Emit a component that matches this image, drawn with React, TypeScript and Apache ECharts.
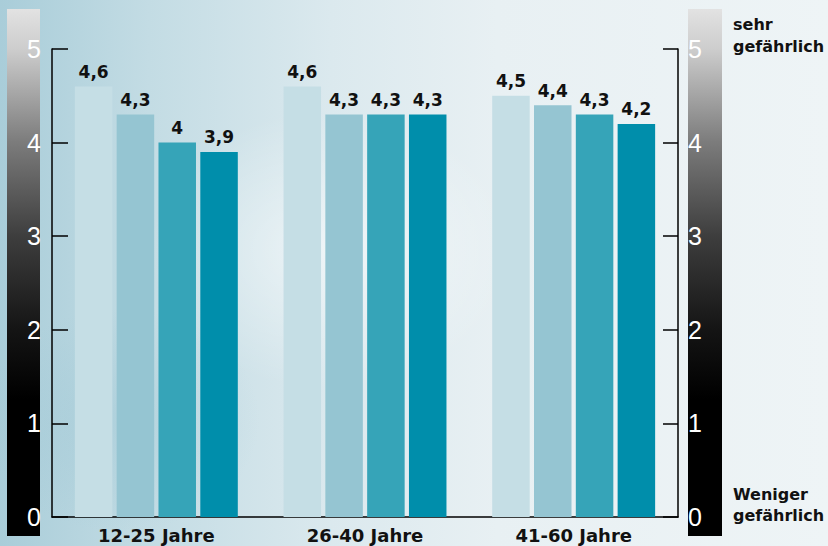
import React, { useEffect, useRef } from "react";
import * as echarts from "echarts";

const categories = ["12-25 Jahre", "26-40 Jahre", "41-60 Jahre"];
const series1 = [4.6, 4.6, 4.5];
const series2 = [4.3, 4.3, 4.4];
const series3 = [4.0, 4.3, 4.3];
const series4 = [3.9, 4.3, 4.2];
const barColors = ["#c5dee5", "#95c5d2", "#36a4b8", "#008eab"];
const yTicks = [0, 1, 2, 3, 4, 5];
const topText = ["sehr", "gefährlich"];
const bottomText = ["Weniger", "gefährlich"];

const fmt = (v: number) => String(v).replace(".", ",");

export default function App() {
  const ref = useRef<HTMLDivElement>(null);
  useEffect(() => {
    if (!ref.current) return;
    const chart = echarts.init(ref.current, undefined, { renderer: "svg" });
    const stripFill = {
      type: "linear",
      x: 0,
      y: 0,
      x2: 0,
      y2: 1,
      colorStops: [
        { offset: 0, color: "#e2e2e2" },
        { offset: 0.076, color: "#cdcdcd" },
        { offset: 0.252, color: "#7c7c7c" },
        { offset: 0.43, color: "#3e3e3e" },
        { offset: 0.61, color: "#141414" },
        { offset: 0.74, color: "#000000" },
        { offset: 1, color: "#000000" },
      ],
    };
    const allSeries = [series1, series2, series3, series4];
    chart.setOption({
      animation: false,
      backgroundColor: "transparent",
      grid: { left: 52, right: 150, top: 49, bottom: 29, containLabel: false },
      graphic: [
        { type: "rect", z: 0, shape: { x: 7, y: 9, width: 33, height: 527 }, style: { fill: stripFill } },
        { type: "rect", z: 0, shape: { x: 688, y: 9, width: 34, height: 527 }, style: { fill: stripFill } },
        {
          type: "text",
          x: 733,
          y: 13,
          style: {
            text: topText.join("\n"),
            font: "bold 16px 'DejaVu Sans'",
            fill: "#111",
            lineHeight: 22,
          },
        },
        {
          type: "text",
          x: 733,
          y: 484,
          style: {
            text: bottomText.join("\n"),
            font: "bold 16px 'DejaVu Sans'",
            fill: "#111",
            lineHeight: 21,
          },
        },
      ],
      xAxis: {
        type: "category",
        data: categories,
        axisLine: { show: true, lineStyle: { color: "#000", width: 1.5 } },
        axisTick: { show: false },
        axisLabel: {
          color: "#111",
          fontFamily: "DejaVu Sans",
          fontWeight: "bold",
          fontSize: 18,
          margin: 9,
        },
      },
      yAxis: [
        {
          type: "value",
          position: "left",
          min: 0,
          max: 5,
          interval: 1,
          z: 10,
          splitLine: { show: false },
          axisLine: { show: true, lineStyle: { color: "#000", width: 1.5 } },
          axisTick: { show: true, inside: true, length: 16, lineStyle: { color: "#000", width: 1.5 } },
          axisLabel: {
            color: "#fff",
            fontFamily: "Liberation Sans",
            fontSize: 25,
            margin: 11,
            formatter: (v: number) => (yTicks.includes(v) ? String(v) : ""),
          },
        },
        {
          type: "value",
          position: "right",
          min: 0,
          max: 5,
          interval: 1,
          z: 10,
          splitLine: { show: false },
          axisLine: { show: true, lineStyle: { color: "#000", width: 1.5 } },
          axisTick: { show: true, inside: true, length: 15, lineStyle: { color: "#000", width: 1.5 } },
          axisLabel: {
            color: "#fff",
            fontFamily: "Liberation Sans",
            fontSize: 25,
            margin: 10,
            formatter: (v: number) => (yTicks.includes(v) ? String(v) : ""),
          },
        },
      ],
      series: allSeries.map((data, i) => ({
        type: "bar",
        data,
        barWidth: 37.5,
        barGap: "11.5%",
        itemStyle: { color: barColors[i] },
        label: {
          show: true,
          position: "top",
          distance: 6,
          color: "#111",
          fontFamily: "DejaVu Sans",
          fontWeight: "bold",
          fontSize: 17,
          formatter: (p: any) => fmt(p.value),
        },
      })),
    });
    return () => chart.dispose();
  }, []);

  return (
    <div
      style={{
        position: "fixed",
        left: 0,
        top: 0,
        width: 828,
        height: 546,
        overflow: "hidden",
        background:
          "radial-gradient(ellipse 260px 200px at 330px 250px, rgba(255,255,255,0.55), rgba(255,255,255,0) 70%)," +
          "radial-gradient(ellipse 200px 160px at 120px 420px, rgba(150,195,210,0.35), rgba(150,195,210,0) 70%)," +
          "linear-gradient(90deg, #a9cdd9 0%, #c3dce4 18%, #dbe9ee 40%, #e8f0f3 60%, #eef4f6 100%)",
      }}
    >
      <div ref={ref} style={{ width: 828, height: 546 }} />
    </div>
  );
}
